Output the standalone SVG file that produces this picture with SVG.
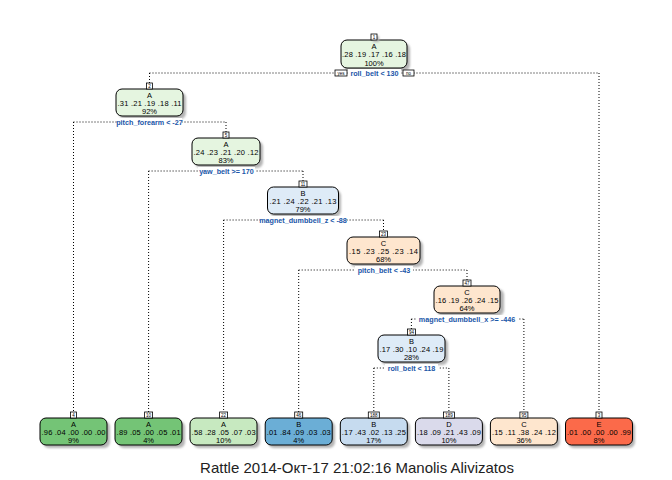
<svg xmlns="http://www.w3.org/2000/svg" width="672" height="480" viewBox="0 0 672 480">
  <defs>
    <filter id="soft" x="-20%" y="-20%" width="140%" height="140%">
      <feGaussianBlur stdDeviation="1.2"/>
    </filter>
  </defs>
  <style>
    .box { stroke: #000; stroke-width: 1; }
    .shadow { fill: #b4b4b4; filter: url(#soft); }
    .num { fill: #fff; stroke: #000; stroke-width: 0.8; }
    .numt { font-family: "Liberation Sans", Arial, sans-serif; font-size: 4.5px; fill: #000; text-anchor: middle; }
    .t { font-family: "Liberation Sans", Arial, sans-serif; font-size: 7.5px; fill: #000; text-anchor: middle; }
    .split { font-family: "Liberation Sans", Arial, sans-serif; font-size: 7.2px; font-weight: bold; fill: #1a56a8; text-anchor: middle; }
    .lbg { fill: #fff; }
    .link { fill: none; stroke: #000; stroke-width: 1; stroke-dasharray: 1 2; }
    .title { font-family: "Liberation Sans", Arial, sans-serif; font-size: 15px; fill: #222; text-anchor: middle; }
    .gA1 { fill: #e5f5e0; } .gA2 { fill: #c7e9c0; } .gA3 { fill: #74c476; }
    .gB1 { fill: #deebf7; } .gB2 { fill: #c6dbef; } .gB3 { fill: #6baed6; }
    .gC1 { fill: #fee6ce; }
    .gD1 { fill: #dadaeb; }
    .gE3 { fill: #fb6a4a; }
  </style>

  <rect width="672" height="480" fill="#fff"/>

  <!-- branch lines -->
  <g id="connectors">
    <path class="link" d="M149.5,73 H599 M149.5,73 V83 M599,73 V412"/>
    <path class="link" d="M73.5,122 H226 M73.5,122 V412 M226,122 V132"/>
    <path class="link" d="M148.6,171 H303 M148.6,171 V412 M303,171 V181"/>
    <path class="link" d="M223.6,220 H383.5 M223.6,220 V412 M383.5,220 V231"/>
    <path class="link" d="M298.7,270 H467 M298.7,270 V412 M467,270 V280"/>
    <path class="link" d="M411.4,319 H523.9 M523.9,319 V412 M411.4,319 V329"/>
    <path class="link" d="M373.8,368 H448.9 M373.8,368 V412 M448.9,368 V412"/>
  </g>

  <!-- node 1 (root) -->
  <g id="node-1">
    <rect class="shadow" x="344" y="43" width="66" height="28" rx="6"/>
    <rect class="box gA1" x="341" y="40" width="66" height="28" rx="6"/>
    <rect class="shadow" x="373" y="36" width="6" height="6"/>
    <rect class="num" x="371" y="34" width="6" height="6"/>
    <text class="numt" x="374" y="39">1</text>
    <text class="t" x="374" y="48.5">A</text>
    <text class="t" x="374" y="57" textLength="64" lengthAdjust="spacing">.28 .19 .17 .16 .18</text>
    <text class="t" x="374" y="65.5">100%</text>
    <rect class="lbg" x="348" y="69" width="53" height="8"/>
    <text class="split" x="374.5" y="75.5">roll_belt &lt; 130</text>
    <rect class="num" x="335" y="70" width="12" height="6"/>
    <text class="numt" x="341" y="75">yes</text>
    <rect class="num" x="403" y="70" width="11" height="6"/>
    <text class="numt" x="408.5" y="75">no</text>
  </g>

  <!-- node 2 -->
  <g id="node-2">
    <rect class="shadow" x="119" y="92" width="67" height="27" rx="6"/>
    <rect class="box gA1" x="116" y="89" width="67" height="27" rx="6"/>
    <rect class="num" x="146.5" y="83" width="6" height="6"/>
    <text class="numt" x="149.5" y="88">2</text>
    <text class="t" x="149.5" y="97.5">A</text>
    <text class="t" x="149.5" y="106" textLength="64" lengthAdjust="spacing">.31 .21 .19 .18 .11</text>
    <text class="t" x="149.5" y="114">92%</text>
    <rect class="lbg" x="117" y="118" width="65" height="8"/>
    <text class="split" x="149.5" y="124.5">pitch_forearm &lt; -27</text>
  </g>

  <!-- node 5 -->
  <g id="node-5">
    <rect class="shadow" x="195" y="141" width="68" height="27" rx="6"/>
    <rect class="box gA1" x="192" y="138" width="68" height="27" rx="6"/>
    <rect class="num" x="223" y="132" width="6" height="6"/>
    <text class="numt" x="226" y="137">5</text>
    <text class="t" x="226" y="146.5">A</text>
    <text class="t" x="226" y="155" textLength="65" lengthAdjust="spacing">.24 .23 .21 .20 .12</text>
    <text class="t" x="226" y="163">83%</text>
    <rect class="lbg" x="198" y="167" width="57" height="8"/>
    <text class="split" x="226.5" y="173.5">yaw_belt &gt;= 170</text>
  </g>

  <!-- node 11 -->
  <g id="node-11">
    <rect class="shadow" x="270" y="190" width="71" height="27" rx="6"/>
    <rect class="box gB1" x="267.5" y="187" width="71" height="27" rx="6"/>
    <rect class="num" x="299" y="181" width="8" height="6"/>
    <text class="numt" x="303" y="186">11</text>
    <text class="t" x="303" y="195.5">B</text>
    <text class="t" x="303" y="204" textLength="67" lengthAdjust="spacing">.21 .24 .22 .21 .13</text>
    <text class="t" x="303" y="212">79%</text>
    <rect class="lbg" x="260" y="216" width="86" height="8"/>
    <text class="split" x="303" y="222.5">magnet_dumbbell_z &lt; -88</text>
  </g>

  <!-- node 23 -->
  <g id="node-23">
    <rect class="shadow" x="350" y="240" width="73" height="27" rx="6"/>
    <rect class="box gC1" x="347" y="237" width="73" height="27" rx="6"/>
    <rect class="num" x="379.5" y="231" width="8" height="6"/>
    <text class="numt" x="383.5" y="236">23</text>
    <text class="t" x="383.5" y="245.5">C</text>
    <text class="t" x="383.5" y="254" textLength="69" lengthAdjust="spacing">.15 .23 .25 .23 .14</text>
    <text class="t" x="383.5" y="262">68%</text>
    <rect class="lbg" x="355" y="266" width="58" height="8"/>
    <text class="split" x="384" y="272.5">pitch_belt &lt; -43</text>
  </g>

  <!-- node 47 -->
  <g id="node-47">
    <rect class="shadow" x="437" y="289" width="67" height="27" rx="6"/>
    <rect class="box gC1" x="434" y="286" width="66" height="27" rx="6"/>
    <rect class="num" x="463" y="280" width="8" height="6"/>
    <text class="numt" x="467" y="285">47</text>
    <text class="t" x="467" y="294.5">C</text>
    <text class="t" x="467" y="303" textLength="63" lengthAdjust="spacing">.16 .19 .26 .24 .15</text>
    <text class="t" x="467" y="311">64%</text>
    <rect class="lbg" x="416" y="315" width="102" height="8"/>
    <text class="split" x="467" y="321.5">magnet_dumbbell_x &gt;= -446</text>
  </g>

  <!-- node 94 -->
  <g id="node-94">
    <rect class="shadow" x="381" y="338" width="67" height="27" rx="6"/>
    <rect class="box gB1" x="378" y="335" width="67" height="27" rx="6"/>
    <rect class="num" x="407.4" y="329" width="8" height="6"/>
    <text class="numt" x="411.4" y="334">94</text>
    <text class="t" x="411.4" y="343.5">B</text>
    <text class="t" x="411.4" y="352" textLength="64" lengthAdjust="spacing">.17 .30 .10 .24 .19</text>
    <text class="t" x="411.4" y="360">28%</text>
    <rect class="lbg" x="385" y="364" width="53" height="8"/>
    <text class="split" x="411.5" y="370.5">roll_belt &lt; 118</text>
  </g>

  <!-- leaves -->
  <g id="node-4">
    <rect class="shadow" x="43" y="421" width="67" height="27" rx="6"/>
    <rect class="box gA3" x="40" y="418" width="67" height="27" rx="6"/>
    <rect class="num" x="70.5" y="412" width="6" height="6"/>
    <text class="numt" x="73.5" y="417">4</text>
    <text class="t" x="73.5" y="426.5">A</text>
    <text class="t" x="73.5" y="435" textLength="64" lengthAdjust="spacing">.96 .04 .00 .00 .00</text>
    <text class="t" x="73.5" y="443">9%</text>
  </g>

  <g id="node-10">
    <rect class="shadow" x="118" y="421" width="67" height="27" rx="6"/>
    <rect class="box gA3" x="115" y="418" width="67" height="27" rx="6"/>
    <rect class="num" x="144.6" y="412" width="8" height="6"/>
    <text class="numt" x="148.6" y="417">10</text>
    <text class="t" x="148.6" y="426.5">A</text>
    <text class="t" x="148.6" y="435" textLength="64" lengthAdjust="spacing">.89 .05 .00 .05 .01</text>
    <text class="t" x="148.6" y="443">4%</text>
  </g>

  <g id="node-22">
    <rect class="shadow" x="193" y="421" width="67" height="27" rx="6"/>
    <rect class="box gA2" x="190" y="418" width="67" height="27" rx="6"/>
    <rect class="num" x="219.6" y="412" width="8" height="6"/>
    <text class="numt" x="223.6" y="417">22</text>
    <text class="t" x="223.6" y="426.5">A</text>
    <text class="t" x="223.6" y="435" textLength="64" lengthAdjust="spacing">.58 .28 .05 .07 .03</text>
    <text class="t" x="223.6" y="443">10%</text>
  </g>

  <g id="node-46">
    <rect class="shadow" x="268" y="421" width="67" height="27" rx="6"/>
    <rect class="box gB3" x="265.2" y="418" width="67" height="27" rx="6"/>
    <rect class="num" x="294.7" y="412" width="8" height="6"/>
    <text class="numt" x="298.7" y="417">46</text>
    <text class="t" x="298.7" y="426.5">B</text>
    <text class="t" x="298.7" y="435" textLength="64" lengthAdjust="spacing">.01 .84 .09 .03 .03</text>
    <text class="t" x="298.7" y="443">4%</text>
  </g>

  <g id="node-188">
    <rect class="shadow" x="343" y="421" width="67" height="27" rx="6"/>
    <rect class="box gB2" x="340.3" y="418" width="67" height="27" rx="6"/>
    <rect class="num" x="368.3" y="412" width="11" height="6"/>
    <text class="numt" x="373.8" y="417">188</text>
    <text class="t" x="373.8" y="426.5">B</text>
    <text class="t" x="373.8" y="435" textLength="64" lengthAdjust="spacing">.17 .43 .02 .13 .25</text>
    <text class="t" x="373.8" y="443">17%</text>
  </g>

  <g id="node-189">
    <rect class="shadow" x="418" y="421" width="67" height="27" rx="6"/>
    <rect class="box gD1" x="415.4" y="418" width="67" height="27" rx="6"/>
    <rect class="num" x="443.4" y="412" width="11" height="6"/>
    <text class="numt" x="448.9" y="417">189</text>
    <text class="t" x="448.9" y="426.5">D</text>
    <text class="t" x="448.9" y="435" textLength="64" lengthAdjust="spacing">.18 .09 .21 .43 .09</text>
    <text class="t" x="448.9" y="443">10%</text>
  </g>

  <g id="node-95">
    <rect class="shadow" x="493" y="421" width="67" height="27" rx="6"/>
    <rect class="box gC1" x="490.4" y="418" width="67" height="27" rx="6"/>
    <rect class="num" x="519.9" y="412" width="8" height="6"/>
    <text class="numt" x="523.9" y="417">95</text>
    <text class="t" x="523.9" y="426.5">C</text>
    <text class="t" x="523.9" y="435" textLength="64" lengthAdjust="spacing">.15 .11 .38 .24 .12</text>
    <text class="t" x="523.9" y="443">36%</text>
  </g>

  <g id="node-3">
    <rect class="shadow" x="568" y="421" width="67" height="27" rx="6"/>
    <rect class="box gE3" x="565.5" y="418" width="67" height="27" rx="6"/>
    <rect class="num" x="596" y="412" width="6" height="6"/>
    <text class="numt" x="599" y="417">3</text>
    <text class="t" x="599" y="426.5">E</text>
    <text class="t" x="599" y="435" textLength="64" lengthAdjust="spacing">.01 .00 .00 .00 .99</text>
    <text class="t" x="599" y="443">8%</text>
  </g>

  <text class="title" x="357" y="473">Rattle 2014-Окт-17 21:02:16 Manolis Alivizatos</text>
</svg>
